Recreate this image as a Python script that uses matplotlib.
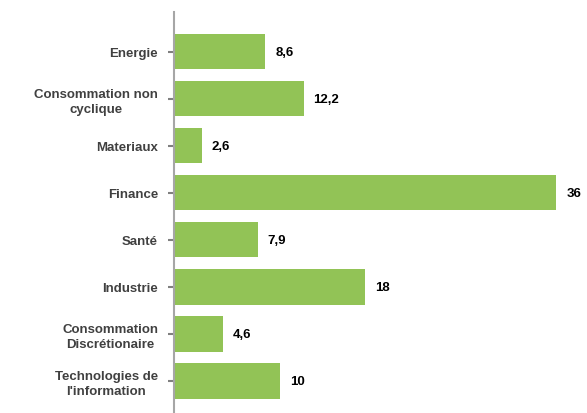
import matplotlib

matplotlib.use("Agg")
import matplotlib.pyplot as plt

CATEGORIES = [
    "Energie",
    "Consommation non\ncyclique",
    "Materiaux",
    "Finance",
    "Santé",
    "Industrie",
    "Consommation\nDiscrétionaire",
    "Technologies de\nl'information",
]
VALUES = [8.6, 12.2, 2.6, 36, 7.9, 18, 4.6, 10]
VALUE_LABELS = ["8,6", "12,2", "2,6", "36", "7,9", "18", "4,6", "10"]

BAR_COLOR = "#92C356"
AXIS_COLOR = "#A6A6A6"
TEXT_COLOR = "#404040"

plt.rcParams["font.family"] = ["Liberation Sans", "DejaVu Sans"]

fig = plt.figure(figsize=(5.87, 4.14), dpi=100)
ax = fig.add_axes([174 / 587, 0.0, 1 - 174 / 587, 1 - 13 / 414])

pos = list(range(len(CATEGORIES)))
ax.barh(pos, VALUES, height=0.75, color=BAR_COLOR)

for y, v, lab in zip(pos, VALUES, VALUE_LABELS):
    ax.annotate(lab, (v, y), xytext=(10, 0), textcoords="offset pixels",
                va="center", ha="left", fontsize=9.5, fontweight="bold", color="black")

ax.set_xlim(0, 38.9)
ax.set_ylim(7.68, -0.84)
ax.set_yticks(pos)
ax.set_yticklabels(CATEGORIES, fontsize=9.5, fontweight="bold", color=TEXT_COLOR,
                   multialignment="center", linespacing=1.3)
ax.tick_params(axis="y", length=4.5, width=1.5, color="#808080", pad=7)
ax.set_xticks([])

for side in ("top", "right", "bottom"):
    ax.spines[side].set_visible(False)
ax.spines["left"].set_color(AXIS_COLOR)
ax.spines["left"].set_linewidth(1.5)

fig.savefig("out.png", dpi=100)
